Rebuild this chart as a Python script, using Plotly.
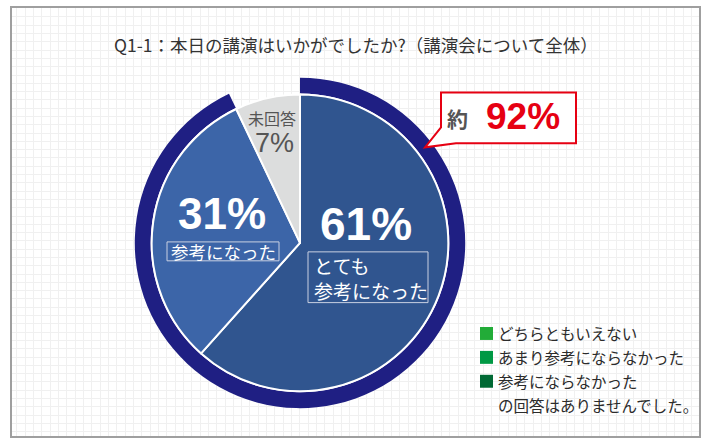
import plotly.graph_objects as go

# ---- data ----
categories = ["とても参考になった", "参考になった", "未回答"]
values = [61, 31, 7]
pct_labels = ["61%", "31%", "7%"]
ring_values = [92, 7]          # 「参考になった」計 と 残り
callout_pct = "92%"
legend_items = ["どちらともいえない", "あまり参考にならなかった", "参考にならなかった"]
legend_note = "の回答はありませんでした。"
title_text = "Q1-1：本日の講演はいかがでしたか?（講演会について全体）"

# ---- styles ----
slice_colors = ["#30558f", "#3c65a8", "#dcdddd"]
ring_color = "#1f1f83"
legend_colors = ["#22ac38", "#009944", "#006934"]
red = "#e60012"
FONT = "Liberation Sans, Arial, Noto Sans CJK JP, sans-serif"
JFONT = "Noto Sans CJK JP, sans-serif"

W, H = 709, 442
L, R, T, B = 12, 699, 6, 436


def px(x):
    return (x - L) / (R - L)


def py(y):
    return (B - y) / (B - T)


cx, cy = 300, 242
r_pie = 149
r_out, r_in = 166, 150

fig = go.Figure()

# outer ring (92%)
fig.add_trace(go.Pie(
    values=ring_values, labels=["計", "残り"], sort=False, direction="clockwise",
    hole=r_in / r_out, textinfo="none", hoverinfo="skip", showlegend=False,
    marker=dict(colors=[ring_color, "rgba(0,0,0,0)"], line=dict(width=0)),
    domain=dict(x=[px(cx - r_out), px(cx + r_out)], y=[py(cy + r_out), py(cy - r_out)]),
))

# main pie
fig.add_trace(go.Pie(
    values=values, labels=categories, sort=False, direction="clockwise",
    textinfo="none", hoverinfo="label+percent", showlegend=False,
    marker=dict(colors=slice_colors, line=dict(color="white", width=2)),
    domain=dict(x=[px(cx - r_pie), px(cx + r_pie)], y=[py(cy + r_pie), py(cy - r_pie)]),
))

shapes = []
annotations = []


def ann(text, x, y, size, color, bold=False, family=FONT, xanchor="center", align="center"):
    annotations.append(dict(
        text=f"<b>{text}</b>" if bold else text, x=x, y=y, xref="x", yref="y",
        xanchor=xanchor, yanchor="middle", align=align, showarrow=False,
        font=dict(size=size, color=color, family=family)))


# title
ann(title_text, 356, 43, 17.5, "#333333", family=JFONT)

# slice labels
ann(pct_labels[0], 366, 223, 46, "white", bold=True)
shapes.append(dict(type="rect", xref="x", yref="y", x0=308, x1=428, y0=251, y1=302,
                   line=dict(color="#c9d1e2", width=1)))
ann("とても<br>参考になった", 312, 277, 19, "white", family=JFONT, xanchor="left", align="left")

ann(pct_labels[1], 222, 212, 44, "white", bold=True)
shapes.append(dict(type="rect", xref="x", yref="y", x0=167, x1=279, y0=241, y1=260,
                   line=dict(color="#c9d1e2", width=1)))
ann(categories[1], 223, 251, 17.5, "white", family=JFONT)

ann(categories[2], 272, 117, 16, "#555555", family=JFONT)
ann(pct_labels[2], 274, 141.5, 27, "#555555")

# callout
shapes.append(dict(type="path", xref="x", yref="y",
                   path="M441,91 L576,91 L576,142 L456,142 L425,146 L441,126 Z",
                   fillcolor="white", line=dict(color=red, width=2)))
ann("約", 457, 117, 21, "#555555", bold=True, family=JFONT)
ann(callout_pct, 523, 115, 37, red, bold=True)

# legend note
leg_y = [333, 357, 381]
for txt, col, yy in zip(legend_items, legend_colors, leg_y):
    shapes.append(dict(type="rect", xref="x", yref="y", x0=480, x1=493, y0=yy - 6.5, y1=yy + 6.5,
                       fillcolor=col, line=dict(width=0)))
    ann(txt, 496, yy, 15.5, "#2b2b2b", family=JFONT, xanchor="left", align="left")
ann(legend_note, 496, 405, 15.5, "#2b2b2b", family=JFONT, xanchor="left", align="left")

fig.update_layout(
    width=W, height=H,
    margin=dict(l=L, r=W - R, t=T, b=H - B),
    paper_bgcolor="white", plot_bgcolor="white",
    shapes=shapes, annotations=annotations,
    xaxis=dict(range=[L, R], showgrid=True, gridcolor="#f0f0f0", gridwidth=1,
               tick0=16.67, dtick=8.333, showticklabels=False, ticks="", zeroline=False,
               showline=True, mirror=True, linecolor="#9f9f9f", linewidth=2, fixedrange=True),
    yaxis=dict(range=[B, T], showgrid=True, gridcolor="#f0f0f0", gridwidth=1,
               tick0=15, dtick=8.333, showticklabels=False, ticks="", zeroline=False,
               showline=True, mirror=True, linecolor="#9f9f9f", linewidth=2, fixedrange=True),
    showlegend=False,
)

fig.write_html("out.html", config={"displayModeBar": False},
               post_script="document.body.style.margin='0';document.body.style.overflow='hidden';")
